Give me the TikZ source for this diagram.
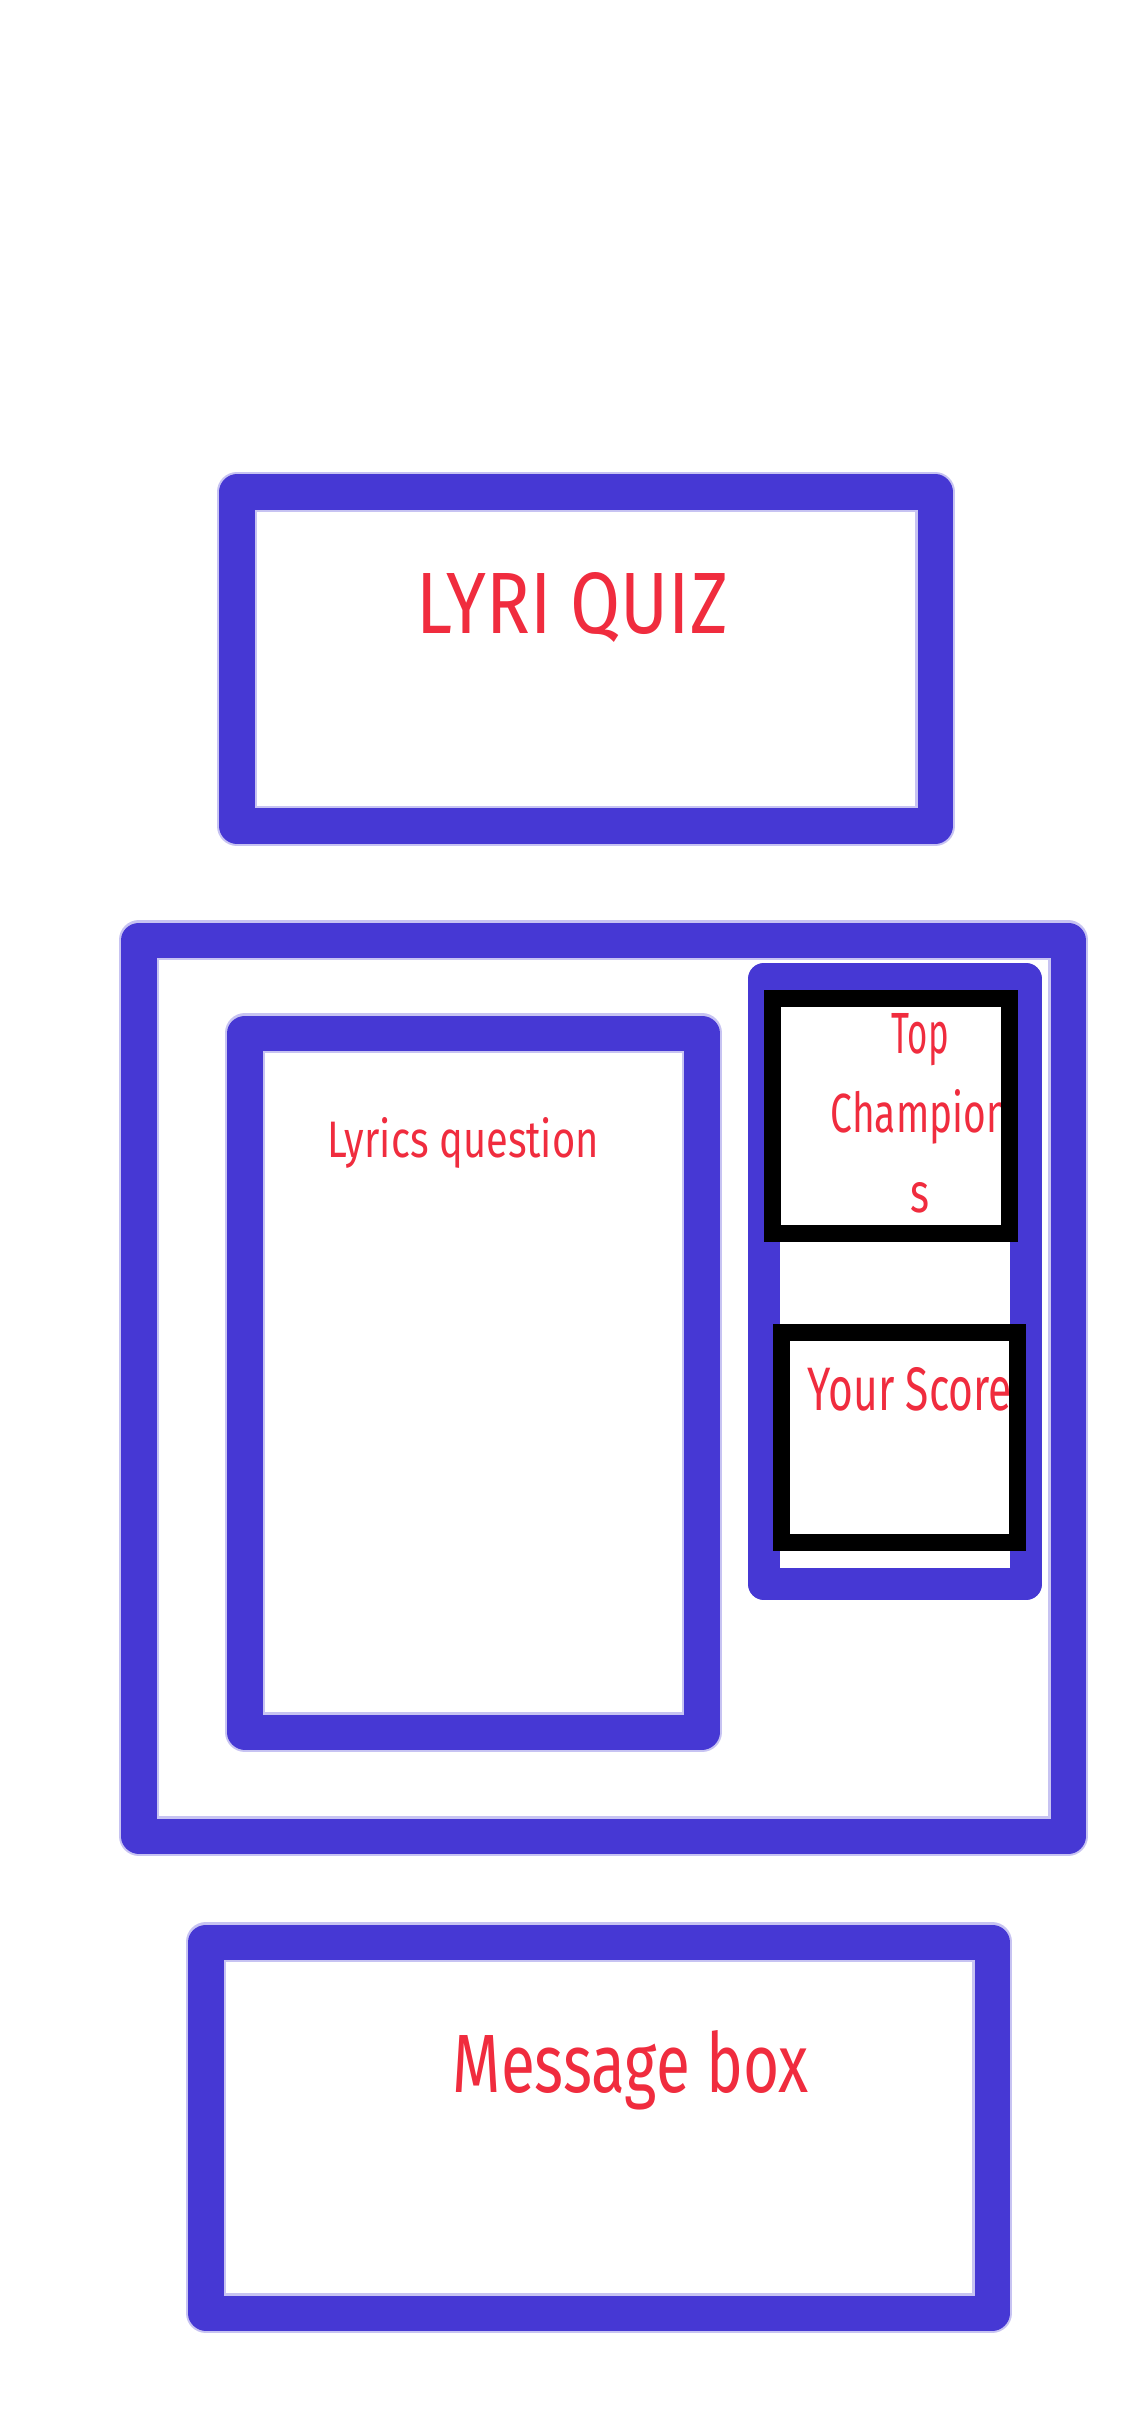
\documentclass[tikz,border=0pt]{standalone}
\usepackage{fontspec}
\usepackage{graphicx}
\newfontfamily\handfont{Fira Sans}
\definecolor{quizblue}{RGB}{70,56,212}
\definecolor{quizred}{RGB}{240,44,62}
% подпись: ширина, высота, текст
\newcommand{\quizhand}[3]{\resizebox{#1}{#2}{\handfont #3}}

\begin{document}
\begin{tikzpicture}[x=0.01cm, y=-0.01cm,
    bluebox/.style={draw=quizblue, line width=0.35cm, line join=round},
    bluehalo/.style={draw=quizblue!30, line width=0.40cm, line join=round},
    blackbox/.style={draw=black, line width=0.17cm},
    quiztext/.style={text=quizred, inner sep=0pt, anchor=base west}]
    % параметры
    \def\W{1125}   % ширина листа
    \def\H{2436}   % высота листа

    % поля листа
    \useasboundingbox (0,0) rectangle (\W,\H);
    \fill[white] (0,0) rectangle (\W,\H);

    % синие рамки (ореол, затем сама линия)
    \foreach \st in {bluehalo, bluebox} {
        \draw[\st] (237,492) rectangle (935,826);    % заголовок
        \draw[\st] (139,940) rectangle (1068,1836);  % основное поле
        \draw[\st] (245,1033) rectangle (702,1732);  % вопрос
        \draw[\st, line width=0.32cm] (764,979) rectangle (1026,1584);  % боковая панель
        \draw[\st] (206,1942) rectangle (992,2313);  % сообщения
    }

    % подписи
    \node[quiztext] (quizTitle) at (416,633)  {\quizhand{3.11cm}{0.61cm}{LYRI QUIZ}};
    \node[quiztext] (lyricsQ)   at (327,1157) {\quizhand{2.71cm}{0.40cm}{Lyrics question}};
    \node[quiztext] (champTop)  at (891,1053) {\quizhand{0.57cm}{0.40cm}{Top}};
    \node[quiztext] (champMid)  at (830,1132) {\quizhand{1.78cm}{0.43cm}{Champion}};
    \node[quiztext] (champEnd)  at (910,1212) {\quizhand{0.19cm}{0.30cm}{s}};
    \node[quiztext] (yourScore) at (807,1410) {\quizhand{2.04cm}{0.43cm}{Your Score}};
    \node[quiztext] (msgBox)    at (452,2092) {\quizhand{3.56cm}{0.62cm}{Message box}};

    % чёрные рамки поверх текста
    \draw[blackbox] (772,998) rectangle (1009,1233);  % чемпионы
    \draw[blackbox] (781,1332) rectangle (1017,1542);  % счёт
\end{tikzpicture}
\end{document}
